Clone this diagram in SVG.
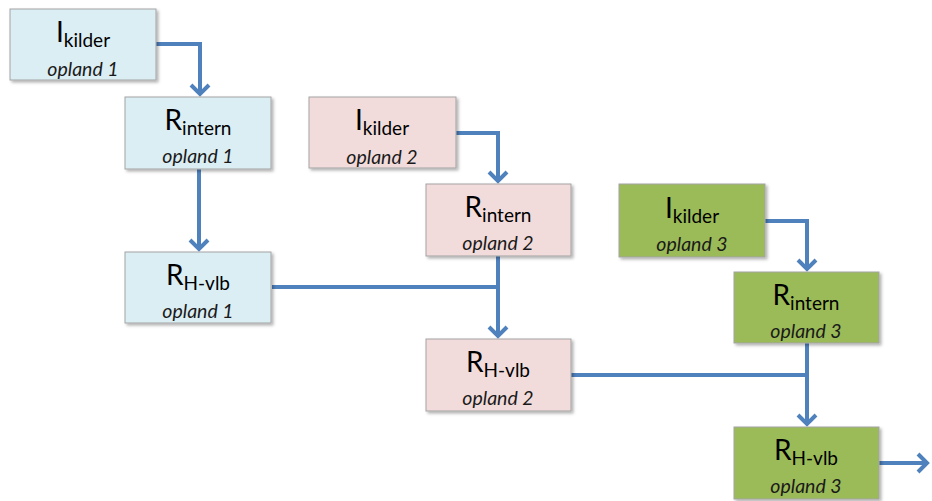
<svg xmlns="http://www.w3.org/2000/svg" width="932" height="501" viewBox="0 0 932 501">
<style>
.box{stroke:#a3a3a3;stroke-width:1;filter:url(#sh)}
.b{fill:#DBEEF4}
.p{fill:#F2DCDB}
.g{fill:#9BBB59}
.m{font-family:Lato,"Liberation Sans",sans-serif;font-size:28px;fill:#000;text-anchor:middle}
.s{font-size:19px}
.o{font-family:Lato,"Liberation Sans",sans-serif;font-size:19.5px;font-style:italic;fill:#1a1a1a;text-anchor:middle}
.c{fill:none;stroke:#4F81BD;stroke-width:4;stroke-linejoin:miter}
</style>
<defs>
<filter id="sh" x="-10%" y="-10%" width="130%" height="140%">
<feDropShadow dx="2" dy="2" stdDeviation="1.5" flood-color="#000" flood-opacity="0.3"/>
</filter>
<marker id="ah" markerUnits="userSpaceOnUse" markerWidth="24" markerHeight="24" viewBox="-12 -12 24 24" refX="0" refY="0" orient="auto">
<path d="M-9,-9 L0,0 L-9,9" fill="none" stroke="#4F81BD" stroke-width="4" stroke-linecap="butt"/>
</marker>
</defs>
<g id="connectors">
<path class="c" d="M156,44 H200 V94" marker-end="url(#ah)"/>
<path class="c" d="M199,169 V249" marker-end="url(#ah)"/>
<path class="c" d="M456,133 H498 V181" marker-end="url(#ah)"/>
<path class="c" d="M272,287 H498"/>
<path class="c" d="M498,256 V336" marker-end="url(#ah)"/>
<path class="c" d="M765,221 H807 V269" marker-end="url(#ah)"/>
<path class="c" d="M571,375 H807"/>
<path class="c" d="M807,343 V424" marker-end="url(#ah)"/>
<path class="c" d="M879,463 H927" marker-end="url(#ah)"/>
</g>
<g id="n1">
<rect class="box b" x="10" y="9" width="146" height="71"/>
<text class="m" x="83" y="42">I<tspan class="s" dy="5">kilder</tspan></text>
<text class="o" x="83" y="76">opland 1</text>
</g>
<g id="n2">
<rect class="box b" x="125" y="97" width="146" height="72"/>
<text class="m" x="198" y="130">R<tspan class="s" dy="5">intern</tspan></text>
<text class="o" x="198" y="163">opland 1</text>
</g>
<g id="n3">
<rect class="box b" x="125" y="252" width="146" height="71"/>
<text class="m" x="198" y="285">R<tspan class="s" dy="5">H-vlb</tspan></text>
<text class="o" x="198" y="318">opland 1</text>
</g>
<g id="n4">
<rect class="box p" x="309" y="97" width="147" height="71"/>
<text class="m" x="382" y="130">I<tspan class="s" dy="5">kilder</tspan></text>
<text class="o" x="382" y="164">opland 2</text>
</g>
<g id="n5">
<rect class="box p" x="426" y="184" width="145" height="72"/>
<text class="m" x="498" y="217">R<tspan class="s" dy="5">intern</tspan></text>
<text class="o" x="498" y="250">opland 2</text>
</g>
<g id="n6">
<rect class="box p" x="426" y="339" width="145" height="72"/>
<text class="m" x="498" y="372">R<tspan class="s" dy="5">H-vlb</tspan></text>
<text class="o" x="498" y="405">opland 2</text>
</g>
<g id="n7">
<rect class="box g" x="619" y="184" width="146" height="73"/>
<text class="m" x="692" y="218">I<tspan class="s" dy="5">kilder</tspan></text>
<text class="o" x="692" y="251">opland 3</text>
</g>
<g id="n8">
<rect class="box g" x="734" y="272" width="145" height="71"/>
<text class="m" x="806" y="305">R<tspan class="s" dy="5">intern</tspan></text>
<text class="o" x="806" y="338">opland 3</text>
</g>
<g id="n9">
<rect class="box g" x="734" y="427" width="145" height="72"/>
<text class="m" x="806" y="460">R<tspan class="s" dy="5">H-vlb</tspan></text>
<text class="o" x="806" y="493">opland 3</text>
</g>
</svg>
